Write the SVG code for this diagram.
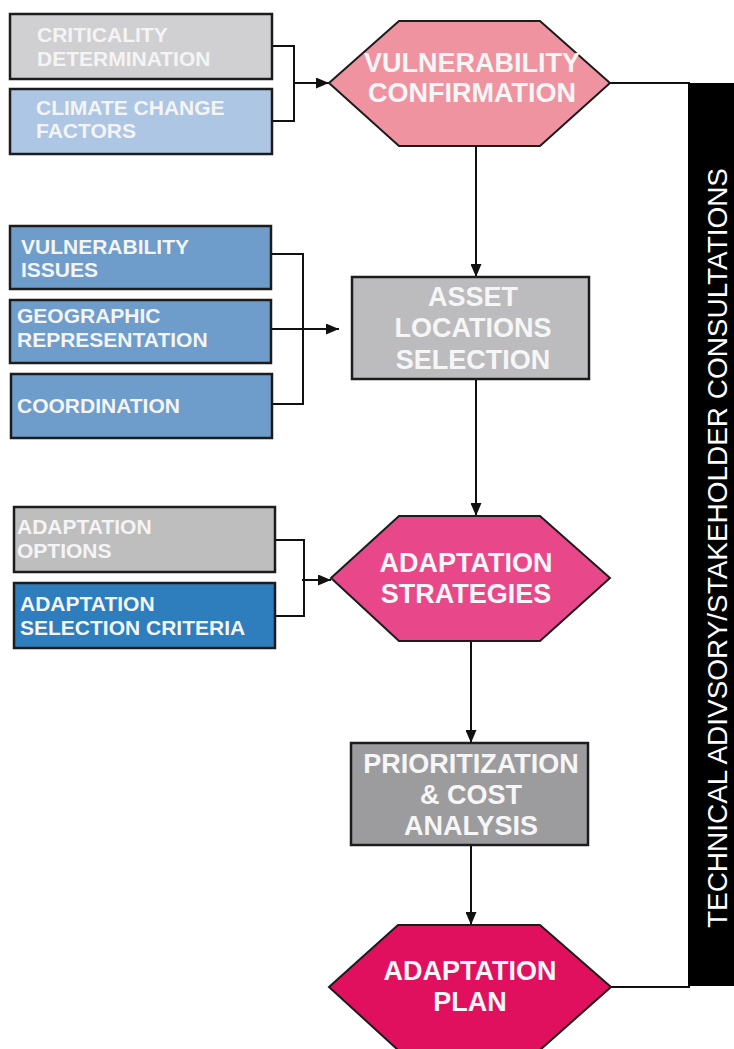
<svg xmlns="http://www.w3.org/2000/svg" width="734" height="1049" viewBox="0 0 734 1049">
<style>
.box{stroke:#1c1c1c;stroke-width:2.5}
.hex{stroke:#1c1c1c;stroke-width:2}
.lt{font-family:"Liberation Sans",Arial,sans-serif;font-weight:bold;font-size:21px;fill:#f4f4f4}
.nt{font-family:"Liberation Sans",Arial,sans-serif;font-weight:bold;font-size:27px;fill:#f6f6f6;text-anchor:middle}
.con{fill:none;stroke:#111;stroke-width:2}
.bt{font-family:"Liberation Sans",Arial,sans-serif;font-size:27.5px;fill:#ffffff;text-anchor:middle}
</style>
<defs>
<marker id="ah" markerUnits="userSpaceOnUse" markerWidth="13" markerHeight="11" refX="13" refY="5.5" orient="auto">
<path d="M0,0 L13,5.5 L0,11 z" fill="#111"/>
</marker>
</defs>
<rect width="734" height="1049" fill="#ffffff"/>

<g id="connectors">
<path class="con" d="M272,46 H294 V121 H272"/>
<path class="con" d="M294,83 H329" marker-end="url(#ah)"/>
<path class="con" d="M610,83 H690"/>
<path class="con" d="M476,146 V277" marker-end="url(#ah)"/>
<path class="con" d="M271,254 H303 V404 H272"/>
<path class="con" d="M271,329 H339" marker-end="url(#ah)"/>
<path class="con" d="M476,379 V516" marker-end="url(#ah)"/>
<path class="con" d="M275,540 H304 V616 H275"/>
<path class="con" d="M302,580 H331" marker-end="url(#ah)"/>
<path class="con" d="M471,641 V743" marker-end="url(#ah)"/>
<path class="con" d="M471,845 V925" marker-end="url(#ah)"/>
<path class="con" d="M611,987 H690"/>
</g>

<g id="criticality">
<rect class="box" x="10" y="14" width="262" height="65" fill="#d0d0d2"/>
<text class="lt" x="37" y="42">CRITICALITY</text>
<text class="lt" x="37" y="66">DETERMINATION</text>
</g>
<g id="climate">
<rect class="box" x="10" y="89" width="262" height="65" fill="#adc6e4"/>
<text class="lt" x="36" y="115">CLIMATE CHANGE</text>
<text class="lt" x="36" y="138">FACTORS</text>
</g>
<g id="vulnerability-confirmation">
<polygon class="hex" points="329,83 399,21 540,21 610,83 540,146 399,146" fill="#f093a0"/>
<text class="nt" x="472" y="72">VULNERABILITY</text>
<text class="nt" x="472" y="102">CONFIRMATION</text>
</g>

<g id="vulnerability-issues">
<rect class="box" x="10" y="226" width="261" height="63" fill="#6e9ccb"/>
<text class="lt" x="21" y="254">VULNERABILITY</text>
<text class="lt" x="21" y="277">ISSUES</text>
</g>
<g id="geographic">
<rect class="box" x="10" y="300" width="261" height="63" fill="#6e9ccb"/>
<text class="lt" x="17" y="323">GEOGRAPHIC</text>
<text class="lt" x="17" y="347">REPRESENTATION</text>
</g>
<g id="coordination">
<rect class="box" x="11" y="374" width="261" height="64" fill="#6e9ccb"/>
<text class="lt" x="17" y="413">COORDINATION</text>
</g>
<g id="asset-locations">
<rect class="box" x="352" y="277" width="237" height="102" fill="#bcbcbe"/>
<text class="nt" x="473" y="306">ASSET</text>
<text class="nt" x="473" y="337">LOCATIONS</text>
<text class="nt" x="473" y="369">SELECTION</text>
</g>

<g id="adaptation-options">
<rect class="box" x="14" y="507" width="261" height="65" fill="#bebebf"/>
<text class="lt" x="17" y="534">ADAPTATION</text>
<text class="lt" x="17" y="558">OPTIONS</text>
</g>
<g id="adaptation-criteria">
<rect class="box" x="14" y="583" width="261" height="65" fill="#2e7dbd"/>
<text class="lt" x="20" y="611">ADAPTATION</text>
<text class="lt" x="20" y="635">SELECTION CRITERIA</text>
</g>
<g id="adaptation-strategies">
<polygon class="hex" points="331,578 399,516 540,516 610,578 540,641 399,641" fill="#e8488a"/>
<text class="nt" x="466" y="572">ADAPTATION</text>
<text class="nt" x="466" y="603">STRATEGIES</text>
</g>

<g id="prioritization">
<rect class="box" x="351" y="743" width="237" height="102" fill="#9c9c9e"/>
<text class="nt" x="471" y="773">PRIORITIZATION</text>
<text class="nt" x="471" y="804">&amp; COST</text>
<text class="nt" x="471" y="835">ANALYSIS</text>
</g>

<g id="adaptation-plan">
<polygon class="hex" points="329,987 398,925 540,925 611,987 540,1050 398,1050" fill="#e0105e"/>
<text class="nt" x="470" y="980">ADAPTATION</text>
<text class="nt" x="470" y="1011">PLAN</text>
</g>

<g id="consultations-bar">
<rect x="688" y="83" width="46" height="903" fill="#000000"/>
<text class="bt" transform="translate(727,548) rotate(-90)" textLength="760" lengthAdjust="spacingAndGlyphs">TECHNICAL ADIVSORY/STAKEHOLDER CONSULTATIONS</text>
</g>
</svg>
